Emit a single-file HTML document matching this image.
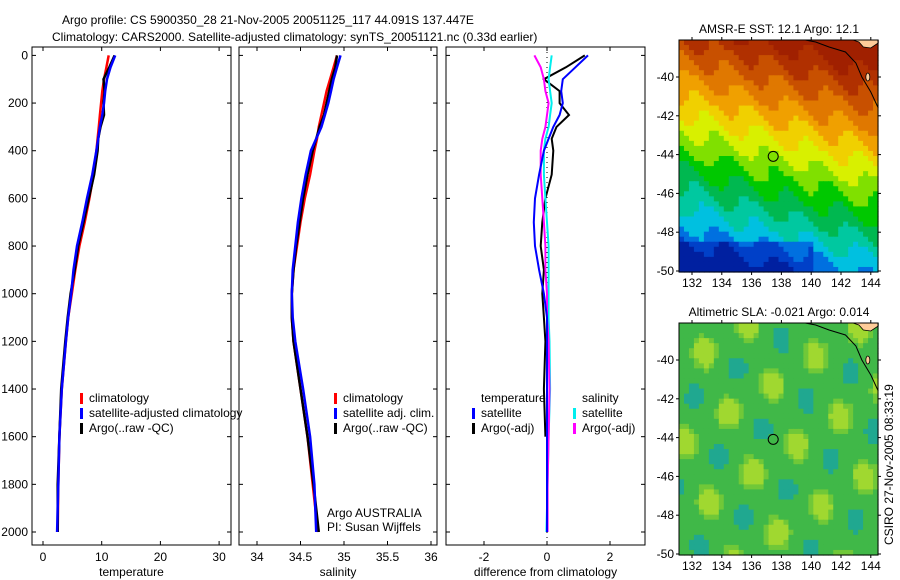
<!DOCTYPE html>
<html><head><meta charset="utf-8"><style>
body{margin:0;background:#fff;}
svg{display:block;font-family:"Liberation Sans",sans-serif;}
text{font-size:12px;fill:#000;}
</style></head><body>
<svg id="fig" width="900" height="580" viewBox="0 0 900 580">
<text x="62" y="24" font-size="13">Argo profile: CS 5900350_28 21-Nov-2005 20051125_117 44.091S 137.447E</text>
<text x="52" y="41" font-size="13">Climatology: CARS2000. Satellite-adjusted climatology: synTS_20051121.nc (0.33d earlier)</text>
<g id="p1"></g>
<g id="p2"></g>
<g id="p3"></g>
<g id="m1"></g>
<g id="m2"></g>
<text x="779" y="33" text-anchor="middle">AMSR-E SST: 12.1 Argo: 12.1</text>
<text x="779" y="316" text-anchor="middle">Altimetric SLA: -0.021 Argo: 0.014</text>
<text transform="translate(893,545) rotate(-90)">CSIRO 27-Nov-2005 08:33:19</text>
</svg>
<script>
const NS="http://www.w3.org/2000/svg";
function mk(p,t,a){const e=document.createElementNS(NS,t);for(const k in a)e.setAttribute(k,a[k]);p.appendChild(e);return e;}
// data
const depths=[0,50,100,150,200,250,300,350,400,500,600,700,800,900,1000,1100,1200,1400,1600,1800,2000];
const tempClim=[11.2,10.8,10.4,10.1,9.9,9.7,9.5,9.3,9.1,8.6,7.9,7.1,6.2,5.5,4.9,4.3,3.9,3.2,2.8,2.6,2.5];
const tempSat=[12.3,11.5,10.9,10.6,10.4,10.1,9.7,9.4,9.1,8.4,7.5,6.7,5.8,5.2,4.8,4.3,3.9,3.2,2.8,2.6,2.4];
const tempArgo=[12.2,11.3,10.3,10.5,10.3,10.4,9.8,9.4,9.3,8.7,7.8,6.9,6.0,5.4,4.7,4.2,3.8,3.1,2.8,2.5,2.5];
const salClim=[34.92,34.88,34.84,34.80,34.77,34.74,34.71,34.69,34.66,34.61,34.55,34.50,34.46,34.42,34.40,34.40,34.42,34.50,34.58,34.64,34.70];
const salSat=[34.96,34.92,34.88,34.85,34.82,34.78,34.74,34.68,34.62,34.56,34.51,34.47,34.44,34.41,34.40,34.41,34.44,34.53,34.61,34.66,34.68];
const salArgo=[34.92,34.90,34.86,34.83,34.80,34.77,34.72,34.68,34.64,34.58,34.53,34.49,34.45,34.42,34.40,34.40,34.42,34.50,34.58,34.65,34.71];
const dTempSat=[1.3,0.9,0.5,0.45,0.5,0.4,0.2,0.05,-0.1,-0.25,-0.38,-0.42,-0.38,-0.25,-0.1,0,0,0,0,0,0];
const dTempArgo=[1.2,0.6,-0.1,0.4,0.4,0.7,0.3,0.15,0.2,0.15,-0.05,-0.15,-0.2,-0.1,-0.15,-0.1,-0.05,-0.1,-0.05,null,null];
const dSalSat=[0.15,0.1,0.05,0.1,0.15,0.1,0.05,-0.05,-0.1,-0.1,-0.05,0,0.05,0.05,0.05,0.05,0.08,0.1,0.05,0.02,-0.02];
const dSalArgo=[-0.4,-0.2,-0.1,-0.05,0.05,0,-0.05,-0.15,-0.2,-0.2,-0.15,-0.1,-0.05,-0.05,0,0,0.05,0.08,0.05,0.02,0.02];
const depthTicks=[0,200,400,600,800,1000,1200,1400,1600,1800,2000];
const tempTicks=[0,10,20,30];
const salTicks=[34,34.5,35,35.5,36];
const salTickLabels=["34","34.5","35","35.5","36"];
const diffTicks=[-2,0,2];
const lonTicks=[132,134,136,138,140,142,144];
const latTicks=[-40,-42,-44,-46,-48,-50];

const Y0=47,Y1=545;
const yD=d=>55.4+d*0.2383;
function panel(g,x0,x1,xs,xt,xl,ylab,xtitle){
  mk(g,'rect',{x:x0,y:Y0,width:x1-x0,height:Y1-Y0,fill:'none',stroke:'#000','stroke-width':1});
  xt.forEach((v,i)=>{const x=xs(v);mk(g,'line',{x1:x,x2:x,y1:Y1,y2:Y1-4,stroke:'#000'});mk(g,'line',{x1:x,x2:x,y1:Y0,y2:Y0+4,stroke:'#000'});
    const t=mk(g,'text',{x:x,y:Y1+16,'text-anchor':'middle'});t.textContent=xl[i];
    
    });
  depthTicks.forEach(d=>{const y=yD(d);mk(g,'line',{x1:x0,x2:x0+4,y1:y,y2:y,stroke:'#000'});mk(g,'line',{x1:x1,x2:x1-4,y1:y,y2:y,stroke:'#000'});
    if(ylab){const t=mk(g,'text',{x:x0-4,y:y+4,'text-anchor':'end'});t.textContent=d;
    
    }});
  const t=mk(g,'text',{x:(x0+x1)/2,y:Y1+31,'text-anchor':'middle'});t.textContent=xtitle;
  
  
}
function line(g,xs,vals,col,w,name){let d='';let pen=false;
  vals.forEach((v,i)=>{if(v==null){pen=false;return;}d+=(pen?'L':'M')+xs(v).toFixed(1)+','+yD(depths[i]).toFixed(1);pen=true;});
  const p=mk(g,'path',{d:d,fill:'none',stroke:col,'stroke-width':w});
  
  }
function legend(g,x,y,items){items.forEach((it,i)=>{
  if(it[0])mk(g,'rect',{x:x,y:y+i*15-9,width:3,height:11,fill:it[0]});
  const t=mk(g,'text',{x:x+9,y:y+i*15});t.textContent=it[1];
  
  });}

const p1=document.getElementById('p1');
const xT=v=>43+v*5.87;
panel(p1,32,231,xT,tempTicks,tempTicks.map(String),true,'temperature');
line(p1,xT,tempClim,'#f00',2.5,'temperature-climatology-line');
line(p1,xT,tempArgo,'#000',2.5,'temperature-argo-line');
line(p1,xT,tempSat,'#00f',2.5,'temperature-satellite-line');
legend(p1,80,402,[['#f00','climatology'],['#00f','satellite-adjusted climatology'],['#000','Argo(..raw -QC)']]);

const p2=document.getElementById('p2');
const xS=v=>257+(v-34)*87;
panel(p2,239,437,xS,salTicks,salTickLabels,false,'salinity');
line(p2,xS,salClim,'#f00',2.5,'salinity-climatology-line');
line(p2,xS,salArgo,'#000',2.5,'salinity-argo-line');
line(p2,xS,salSat,'#00f',2.5,'salinity-satellite-line');
legend(p2,334,402,[['#f00','climatology'],['#00f','satellite adj. clim.'],['#000','Argo(..raw -QC)']]);
const a1=mk(p2,'text',{x:327,y:517});a1.textContent='Argo AUSTRALIA';


const a2=mk(p2,'text',{x:327,y:531});a2.textContent='PI: Susan Wijffels';



const p3=document.getElementById('p3');
const xDf=v=>547+v*31.5;
panel(p3,446,645,xDf,diffTicks,diffTicks.map(String),false,'difference from climatology');
mk(p3,'line',{x1:xDf(0),x2:xDf(0),y1:Y0,y2:Y1,stroke:'#000','stroke-dasharray':'1,4'});
line(p3,xDf,dTempArgo,'#000',2,'diff-temperature-argo-line');
line(p3,xDf,dSalSat,'#0ee',2,'diff-salinity-satellite-line');
line(p3,xDf,dSalArgo,'#f0f',2,'diff-salinity-argo-line');
line(p3,xDf,dTempSat,'#00f',2,'diff-temperature-satellite-line');
legend(p3,472,402,[[null,'temperature'],['#00f','satellite'],['#000','Argo(-adj)']]);
legend(p3,573,402,[[null,'salinity'],['#0ee','satellite'],['#f0f','Argo(-adj)']]);

// maps
function map(g,top,cellFn){
  const L=679,R=878,B=top+232;
  const lx=v=>692+(v-132)*14.9, ly=v=>top+37+(-40-v)*19.4;
  const cw=199/40,ch=232/46;
  for(let j=0;j<46;j++)for(let i=0;i<40;i++){
    const lon=131.1+(i+0.5)*cw/14.9, lat=(-40+ (top+37-(top+(j+0.5)*ch))/19.4);
    mk(g,'rect',{x:(L+i*cw).toFixed(2),y:(top+j*ch).toFixed(2),width:(cw+0.6).toFixed(2),height:(ch+0.6).toFixed(2),fill:cellFn(lon,lat)});
  }
  mk(g,'path',{d:`M${lx(139.6)},${top} L${lx(140.3)},${top+2} L${lx(141.2)},${top+7} L${lx(142.3)},${top+12} L${lx(143)},${top+23} L${lx(143.4)},${top+37} L${lx(144)},${top+52} L${lx(144.5)},${top+68}`,fill:'none',stroke:'#000','stroke-width':1});
  mk(g,'path',{d:`M${lx(142.8)},${top} L${lx(144.5)},${top} L${lx(144.5)},${top+3} L${lx(144)},${top+8} L${lx(143.5)},${top+7} L${lx(143.2)},${top+2} Z`,fill:'#ffcc99',stroke:'#000','stroke-width':0.8});
  mk(g,'ellipse',{cx:lx(143.8),cy:ly(-40),rx:2,ry:4,fill:'#ffcc99',stroke:'#000','stroke-width':0.8});
  mk(g,'rect',{x:L,y:top,width:R-L,height:B-top,fill:'none',stroke:'#000'});
  mk(g,'circle',{cx:lx(137.45),cy:ly(-44.09),r:5,fill:'none',stroke:'#000','stroke-width':1});
  lonTicks.forEach(v=>{const x=lx(v);mk(g,'line',{x1:x,x2:x,y1:B,y2:B+3,stroke:'#000'});mk(g,'line',{x1:x,x2:x,y1:top,y2:top-3,stroke:'#000'});
    const t=mk(g,'text',{x:x,y:B+15,'text-anchor':'middle'});t.textContent=v;
    
    });
  latTicks.forEach(v=>{const y=ly(v);mk(g,'line',{x1:L,x2:L-3,y1:y,y2:y,stroke:'#000'});mk(g,'line',{x1:R,x2:R+3,y1:y,y2:y,stroke:'#000'});
    const t=mk(g,'text',{x:L-5,y:y+4,'text-anchor':'end'});t.textContent=v;
    
    });
}
const sstCols=['#0020a0','#0040c8','#0070e0','#00c0e0','#00c8a0','#00b850','#00c800','#80e000','#d8f000','#f0d000','#f0a000','#e07800','#c85000','#b03000','#a02000'];
function sst(lon,lat){
  const b=-43.8-(lon-131)*0.2;
  let v=(lat-b)*1.05+6.5 + Math.sin(lon*2.1+lat*1.3)*0.5;
  if(lat<-48.5&&lon<140)v-=1.2;
  v=Math.max(0,Math.min(14,Math.round(v)));return sstCols[v];}
function sla(lon,lat){
  const s=Math.sin(lon*1.7+lat*0.9)+Math.cos(lon*0.8-lat*1.6);
  if(s>1.3)return '#a0d830';if(s>0.8)return '#70c838';if(s<-1.4)return '#20a890';return '#40b848';}
map(document.getElementById('m1'),40,sst);
map(document.getElementById('m2'),323,sla);
</script>
</body></html>
